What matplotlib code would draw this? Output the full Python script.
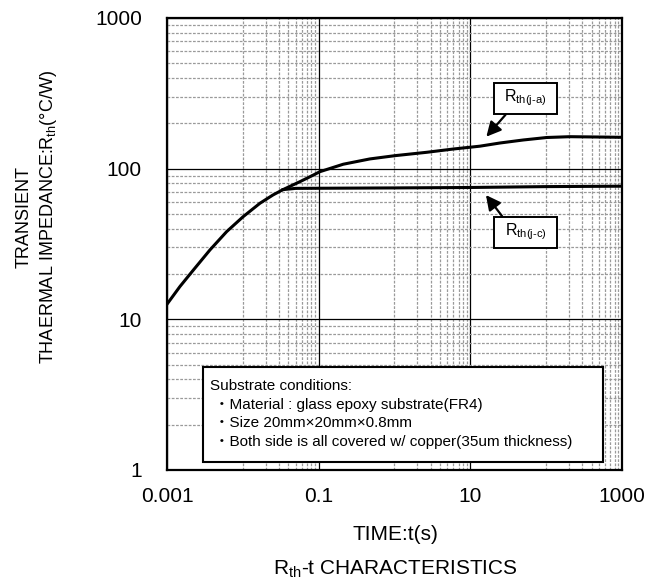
import numpy as np
import matplotlib
matplotlib.use('Agg')
import matplotlib.pyplot as plt
from matplotlib.ticker import FixedLocator, NullFormatter, FuncFormatter
from matplotlib.patches import Rectangle

plt.rcParams['font.family'] = ['Liberation Sans', 'DejaVu Sans']
plt.rcParams['mathtext.fontset'] = 'custom'
plt.rcParams['mathtext.rm'] = 'Liberation Sans'
plt.rcParams['mathtext.it'] = 'Liberation Sans'

# Rth(j-a) curve
t_ja = [0.001, 0.00148, 0.00222, 0.00369, 0.00612, 0.0101, 0.0168, 0.025, 0.0339,
        0.0568, 0.0769, 0.104, 0.211, 0.473, 1.02, 2.66, 5.97, 13.4, 24.6, 50, 102, 206, 1000]
r_ja = [12.6, 16.5, 21.2, 28.9, 38.2, 48.0, 58.9, 66.9, 72.6,
        82, 88.4, 95.5, 107, 116, 122, 128.4, 135, 141, 148, 155, 161, 163, 161.5]

# Rth(j-c) branch
t_jc = [0.0339, 0.05, 1, 10, 100, 1000]
r_jc = [72.6, 74, 74.5, 75, 76, 76.5]

xticks = [0.001, 0.1, 10, 1000]
yticks = [1, 10, 100, 1000]
xminor = [k * d for d in [0.01, 1, 100] for k in range(1, 10)]
yminor = [k * d for d in [1, 10, 100] for k in range(2, 10)]

notes = ['Substrate conditions:',
         ' \u30fbMaterial : glass epoxy substrate(FR4)',
         ' \u30fbSize 20mm\u00d720mm\u00d70.8mm',
         ' \u30fbBoth side is all covered w/ copper(35um thickness)']

fig = plt.figure(figsize=(6.68, 5.88), dpi=100)
ax = fig.add_axes([0.25, 0.2007, 0.681, 0.7687])

ax.set_xscale('log')
ax.set_yscale('log')
ax.set_xlim(0.001, 1000)
ax.set_ylim(1, 1000)

ax.xaxis.set_major_locator(FixedLocator(xticks))
ax.xaxis.set_minor_locator(FixedLocator(xminor))
ax.yaxis.set_major_locator(FixedLocator(yticks))
ax.yaxis.set_minor_locator(FixedLocator(yminor))
ax.xaxis.set_minor_formatter(NullFormatter())
ax.yaxis.set_minor_formatter(NullFormatter())
fmt = FuncFormatter(lambda v, p: ('%g' % v))
ax.xaxis.set_major_formatter(fmt)
ax.yaxis.set_major_formatter(fmt)
ax.tick_params(which='both', length=0, labelsize=15)
ax.tick_params(axis='x', pad=12)
ax.tick_params(axis='y', pad=18)

ax.grid(which='major', color='k', lw=0.9, ls='-')
ax.grid(which='minor', color='#9a9a9a', lw=0.9, ls=(0, (2.2, 1.2)))
ax.set_axisbelow(True)
for s in ax.spines.values():
    s.set_linewidth(1.6)

ax.plot(t_ja, r_ja, color='k', lw=2.2, zorder=3, solid_joinstyle='round')
ax.plot(t_jc, r_jc, color='k', lw=2.2, zorder=3)

# labels with arrows
for yb, lab in [(0.7876, r'R$_\mathrm{th(j\text{-}a)}$'), (0.4912, r'R$_\mathrm{th(j\text{-}c)}$')]:
    ax.add_patch(Rectangle((0.7187, yb), 0.1385, 0.0686, transform=ax.transAxes,
                           fc='white', ec='k', lw=1.4, zorder=5))
    ax.text(0.7187 + 0.0693, yb + 0.037, lab, transform=ax.transAxes, fontsize=11.5,
            ha='center', va='center', zorder=6)
ap = dict(arrowstyle='-|>,head_length=0.55,head_width=0.28', color='k', lw=1.6,
          mutation_scale=16, shrinkA=0, shrinkB=0)
ax.annotate('', xy=(16.3, 163), xytext=(29.2, 228), arrowprops=ap, zorder=5)
ax.annotate('', xy=(16.1, 66.8), xytext=(26.2, 48.5), arrowprops=ap, zorder=5)

# substrate conditions box
ax.add_patch(Rectangle((0.079, 0.0177), 0.879, 0.2103, transform=ax.transAxes,
                       fc='white', ec='k', lw=1.5, zorder=4))
for i, line in enumerate(notes):
    ax.text(0.0945, 0.186 - i * 0.0415, line, transform=ax.transAxes, fontsize=11,
            ha='left', va='center', zorder=5,
            family=['Liberation Sans', 'Noto Sans CJK JP'])

fig.text(0.5925, 1 - 534 / 588, 'TIME:t(s)', fontsize=15, ha='center', va='center')
fig.text(0.5925, 1 - 569 / 588, r'R$_\mathrm{th}$-t CHARACTERISTICS', fontsize=15, ha='center', va='center')
fig.text(37 / 668, 1 - 217 / 588, 'TRANSIENT\nTHAERMAL IMPEDANCE:R$_\\mathrm{th}$(\u00b0C/W)',
         fontsize=13, rotation=90, ha='center', va='center', multialignment='center',
         linespacing=1.35)

fig.savefig('out.png', dpi=100)
